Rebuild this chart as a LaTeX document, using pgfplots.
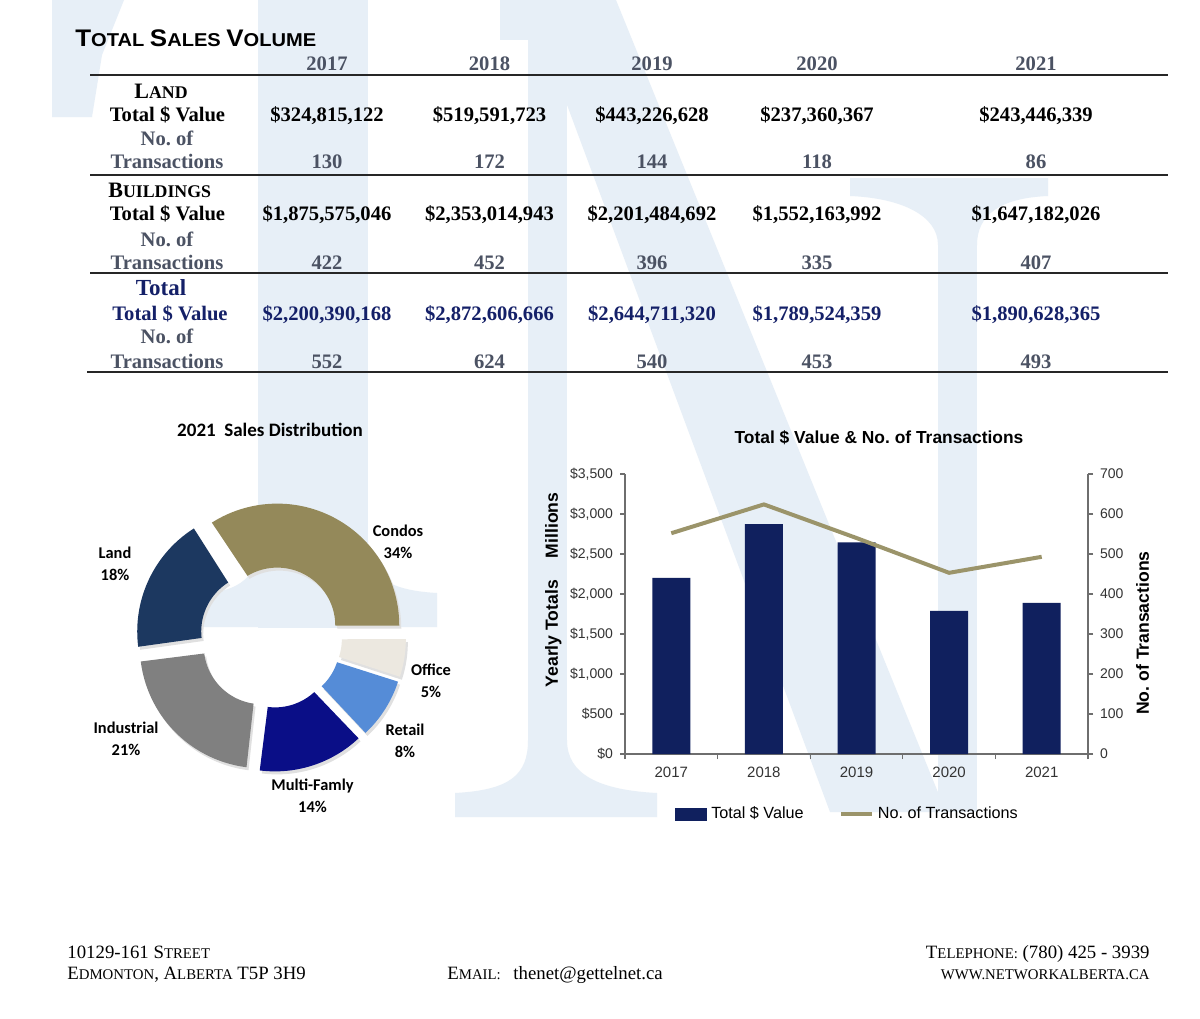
\documentclass[border=0pt]{standalone}
\usepackage{fontspec}
\setmainfont{Liberation Serif}
\newfontfamily\arial{Liberation Sans}
\newfontfamily\calibri{Carlito}
\usepackage{graphicx}
\usepackage{pgfplots}
\pgfplotsset{compat=1.18}

\definecolor{wm}{RGB}{231,239,247}
\definecolor{tgray}{RGB}{75,82,99}
\definecolor{tnavy}{RGB}{20,32,104}
\definecolor{barnavy}{RGB}{16,32,94}
\definecolor{khaki}{RGB}{155,148,106}
\definecolor{condo}{RGB}{148,137,90}
\definecolor{landc}{RGB}{28,56,96}
\definecolor{indc}{RGB}{128,128,128}
\definecolor{multic}{RGB}{10,14,135}
\definecolor{retailc}{RGB}{85,140,215}
\definecolor{officec}{RGB}{236,232,224}
\definecolor{axgray}{RGB}{110,110,110}

\newcommand{\tf}{\fontsize{10.3pt}{12pt}\selectfont\bfseries}
\newcommand{\ftB}{\fontsize{9.4pt}{11pt}\selectfont}
\newcommand{\ftS}{\fontsize{7.4pt}{9pt}\selectfont}
\newcommand{\lbl}{\calibri\bfseries\fontsize{8.2pt}{11pt}\selectfont}

\def\Rout{122}
\def\Rin{58}
\def\Doff{13}
% donut segment: colour, start percentage, percentage
\newcommand{\donutseg}[3]{%
  \pgfmathsetmacro{\aS}{#2*3.6}%
  \pgfmathsetmacro{\aE}{(#2+#3)*3.6}%
  \pgfmathsetmacro{\aM}{(#2+#3/2)*3.6}%
  \pgfmathsetmacro{\oX}{\Doff*cos(\aM)}%
  \pgfmathsetmacro{\oY}{\Doff*sin(\aM)}%
  \pgfmathsetmacro{\sX}{\oX+2}%
  \pgfmathsetmacro{\sY}{\oY-3}%
  \edef\doseg{%
    \noexpand\addplot[fill=black!12, draw=none, domain=0:2, samples=161, variable=\noexpand\t, forget plot]
    ({\sX + ((\noexpand\t<=1) ? \Rout : \Rin)*cos((\noexpand\t<=1) ? (\aS+\noexpand\t*(\aE-\aS)) : (\aE-(\noexpand\t-1)*(\aE-\aS)))},
     {\sY + ((\noexpand\t<=1) ? \Rout : \Rin)*sin((\noexpand\t<=1) ? (\aS+\noexpand\t*(\aE-\aS)) : (\aE-(\noexpand\t-1)*(\aE-\aS)))});
    \noexpand\addplot[fill=#1, draw=none, domain=0:2, samples=161, variable=\noexpand\t, forget plot]
    ({\oX + ((\noexpand\t<=1) ? \Rout : \Rin)*cos((\noexpand\t<=1) ? (\aS+\noexpand\t*(\aE-\aS)) : (\aE-(\noexpand\t-1)*(\aE-\aS)))},
     {\oY + ((\noexpand\t<=1) ? \Rout : \Rin)*sin((\noexpand\t<=1) ? (\aS+\noexpand\t*(\aE-\aS)) : (\aE-(\noexpand\t-1)*(\aE-\aS)))});
  }%
  \doseg}

\begin{document}
\begin{tikzpicture}
\fill[white] (0,0) rectangle (600pt,-509pt);
\path[use as bounding box] (0,0) rectangle (600pt,-509pt);

% ---------- watermark ----------
\begin{scope}
\clip (0,0) rectangle (600pt,-509pt);
\begin{scope}[x=0.5pt,y=-0.5pt]
% T
\fill[wm] (52,0) -- (124,0) -- (102,55) -- (92,117) -- (52,117) -- cycle;
\fill[wm] (258,0) rectangle (368,628);
\fill[wm] (192,595) .. controls (245,592) and (258,575) .. (258,540) -- (368,540)
  .. controls (368,575) and (385,590) .. (437,593) -- (437,627) -- (192,627) -- cycle;
% N
\fill[wm] (500,0) rectangle (616,40);
\fill[wm] (528,0) rectangle (567,815);
\fill[wm] (455,793) .. controls (510,790) and (528,775) .. (528,740) -- (567,740)
  .. controls (567,775) and (600,790) .. (657,793) -- (657,817) -- (455,817) -- cycle;
\fill[wm] (528,0) -- (616,0) -- (946,812) -- (830,812) -- cycle;
\fill[wm] (938,195) rectangle (977,812);
\fill[wm] (850,178) -- (1048,178) -- (1048,196) .. controls (1000,198) and (977,215) .. (977,245)
  -- (938,245) .. controls (938,215) and (900,198) .. (850,196) -- cycle;
\end{scope}
\end{scope}

\begin{scope}[x=0.5pt,y=-0.5pt]
% ---------- table title ----------
\node[anchor=base west, inner sep=0] at (75,46) {\scalebox{1.08}[1]{\arial\bfseries
  \fontsize{12}{12}\selectfont T\fontsize{9.3}{10}\selectfont OTAL
  \fontsize{12}{12}\selectfont S\fontsize{9.3}{10}\selectfont ALES
  \fontsize{12}{12}\selectfont V\fontsize{9.3}{10}\selectfont OLUME}};

% ---------- table rules ----------
\draw[line width=1pt, black!85] (90,74.5) -- (1168,74.5);
\draw[line width=1pt, black!85] (90,174.5) -- (1168,174.5);
\draw[line width=1pt, black!85] (90,272.7) -- (1168,272.7);
\draw[line width=1pt, black!85] (87,372) -- (1168,372);

% ---------- headers ----------
\foreach \x/\y in {327/2017,489.5/2018,652/2019,817/2020,1036/2021}
  \node[anchor=base, font=\tf, text=tgray, inner sep=0] at (\x,70) {\y};

% ---------- row labels ----------
\node[anchor=base, inner sep=0] at (161,98) {\bfseries\fontsize{11}{12}\selectfont L\fontsize{8.9}{10}\selectfont AND};
\node[anchor=base, font=\tf, inner sep=0] at (167.5,121.5) {Total \$ Value};
\node[anchor=base, font=\tf, text=tgray, inner sep=0] at (167,145) {No.\ of};
\node[anchor=base, font=\tf, text=tgray, inner sep=0] at (167,168) {Transactions};

\node[anchor=base west, inner sep=0] at (108,197) {\bfseries\fontsize{11}{12}\selectfont B\fontsize{8.9}{10}\selectfont UILDINGS};
\node[anchor=base, font=\tf, inner sep=0] at (167.5,220.5) {Total \$ Value};
\node[anchor=base, font=\tf, text=tgray, inner sep=0] at (167,246.5) {No.\ of};
\node[anchor=base, font=\tf, text=tgray, inner sep=0] at (167,269) {Transactions};

\node[anchor=base, inner sep=0, text=tnavy] at (161,295) {\bfseries\fontsize{11.5}{12}\selectfont Total};
\node[anchor=base, font=\tf, text=tnavy, inner sep=0] at (170,320) {Total \$ Value};
\node[anchor=base, font=\tf, text=tgray, inner sep=0] at (167,343.3) {No.\ of};
\node[anchor=base, font=\tf, text=tgray, inner sep=0] at (167,368) {Transactions};

% ---------- table values ----------
\foreach \x/\v in {327/{\$324,815,122},489.5/{\$519,591,723},652/{\$443,226,628},817/{\$237,360,367},1036/{\$243,446,339}}
  \node[anchor=base, font=\tf, inner sep=0] at (\x,121.5) {\v};
\foreach \x/\v in {327/130,489.5/172,652/144,817/118,1036/86}
  \node[anchor=base, font=\tf, text=tgray, inner sep=0] at (\x,168) {\v};
\foreach \x/\v in {327/{\$1,875,575,046},489.5/{\$2,353,014,943},652/{\$2,201,484,692},817/{\$1,552,163,992},1036/{\$1,647,182,026}}
  \node[anchor=base, font=\tf, inner sep=0] at (\x,220.5) {\v};
\foreach \x/\v in {327/422,489.5/452,652/396,817/335,1036/407}
  \node[anchor=base, font=\tf, text=tgray, inner sep=0] at (\x,269) {\v};
\foreach \x/\v in {327/{\$2,200,390,168},489.5/{\$2,872,606,666},652/{\$2,644,711,320},817/{\$1,789,524,359},1036/{\$1,890,628,365}}
  \node[anchor=base, font=\tf, text=tnavy, inner sep=0] at (\x,320) {\v};
\foreach \x/\v in {327/552,489.5/624,652/540,817/453,1036/493}
  \node[anchor=base, font=\tf, text=tgray, inner sep=0] at (\x,368) {\v};

% ---------- donut titles and labels ----------
\node[font=\calibri\bfseries\fontsize{9.5}{11}\selectfont] at (270,430) {2021\ \ Sales Distribution};
\node[align=center, font=\lbl, inner sep=0] at (398,542) {Condos\\34\%};
\node[align=center, font=\lbl, inner sep=0] at (115,564) {Land\\18\%};
\node[align=center, font=\lbl, inner sep=0] at (431,680.5) {Office\\5\%};
\node[align=center, font=\lbl, inner sep=0] at (126,739) {Industrial\\21\%};
\node[align=center, font=\lbl, inner sep=0] at (405,740.5) {Retail\\8\%};
\node[align=center, font=\lbl, inner sep=0] at (312.5,796) {Multi-Famly\\14\%};

% ---------- chart title ----------
\node[anchor=base, inner sep=0, font=\arial\bfseries\fontsize{8.7}{10}\selectfont] at (879,443) {Total \$ Value \& No.\ of Transactions};

% ---------- footer ----------
\node[anchor=base west, inner sep=0, font=\ftB] at (67,958) {10129-161 S{\ftS TREET}};
\node[anchor=base west, inner sep=0, font=\ftB] at (67,979) {E{\ftS DMONTON}, A{\ftS LBERTA} T5P 3H9};
\node[anchor=base west, inner sep=0, font=\ftB] at (447,979) {E{\ftS MAIL:}};
\node[anchor=base west, inner sep=0, font=\ftB] at (513,979) {thenet@gettelnet.ca};
\node[anchor=base east, inner sep=0, font=\ftB] at (1150,958) {T{\ftS ELEPHONE:} (780) 425 - 3939};
\node[anchor=base east, inner sep=0, font=\ftS] at (1150,979) {WWW.NETWORKALBERTA.CA};
\end{scope}

% ---------- donut ----------
\begin{axis}[at={(135.5pt,-318.5pt)}, anchor=origin, x=0.5pt, y=0.5pt,
  hide axis, xmin=-150, xmax=150, ymin=-150, ymax=150, clip=false]
\donutseg{condo}{0}{34}
\donutseg{landc}{34}{18}
\donutseg{indc}{52}{21}
\donutseg{multic}{73}{14}
\donutseg{retailc}{87}{8}
\donutseg{officec}{95}{5}
\end{axis}

% ---------- bar chart (left axis) ----------
\begin{axis}[
  at={(312.5pt,-377pt)}, anchor=south west,
  scale only axis, width=231.5pt, height=140pt,
  xmin=-0.5, xmax=4.5, ymin=0, ymax=3500,
  axis x line*=bottom, axis y line*=left,
  axis line style={axgray, line width=0.6pt},
  tick style={axgray, line width=0.6pt},
  tick align=outside, major tick length=2.5pt,
  xtick={-0.5,0.5,1.5,2.5,3.5,4.5}, xticklabels={},
  extra x ticks={0,1,2,3,4},
  extra x tick labels={2017,2018,2019,2020,2021},
  extra x tick style={major tick length=0pt, xticklabel style={yshift=-3pt}},
  ytick={0,500,1000,1500,2000,2500,3000,3500},
  yticklabels={\$0,\$500,{\$1,000},{\$1,500},{\$2,000},{\$2,500},{\$3,000},{\$3,500}},
  /pgf/number format/assume math mode=true,
  ticklabel style={font=\arial\fontsize{7}{8}\selectfont, text=black!80},
  x tick label style={font=\arial\fontsize{7.5}{8}\selectfont},
  ylabel={Yearly Totals\hspace{11pt}Millions},
  ylabel style={at={(axis description cs:-0.155,0.586)}, anchor=center,
    font=\arial\bfseries\fontsize{8.8}{10}\selectfont},
  clip=false,
]
\addplot[ybar, bar width=19pt, fill=barnavy, draw=none]
  coordinates {(0,2200.39) (1,2872.61) (2,2644.71) (3,1789.52) (4,1890.63)};
\end{axis}

% ---------- line (right axis) ----------
\begin{axis}[
  at={(312.5pt,-377pt)}, anchor=south west,
  scale only axis, width=231.5pt, height=140pt,
  xmin=-0.5, xmax=4.5, ymin=0, ymax=700,
  axis x line=none, axis y line*=right,
  axis line style={axgray, line width=0.6pt},
  tick style={axgray, line width=0.6pt},
  tick align=outside, major tick length=2.5pt,
  ytick={0,100,200,300,400,500,600,700},
  /pgf/number format/assume math mode=true,
  ticklabel style={font=\arial\fontsize{7}{8}\selectfont, text=black!80},
  ylabel={No.\ of Transactions},
  ylabel style={at={(axis description cs:1.118,0.432)}, anchor=center,
    font=\arial\bfseries\fontsize{8.8}{10}\selectfont},
  legend style={at={(0.483,-0.214)}, anchor=center, draw=none, fill=none,
    font=\arial\fontsize{8.1}{9}\selectfont, legend columns=2,
    /tikz/every even column/.append style={column sep=16pt},
    inner sep=0pt},
  clip=false,
]
\addlegendimage{legend image code/.code={\fill[barnavy] (0pt,-3pt) rectangle (15.5pt,3pt);}}
\addlegendentry{Total \$ Value}
\addplot[khaki, line width=2pt,
  legend image code/.code={\draw[khaki, line width=1.6pt] (0pt,0pt) -- (15.5pt,0pt);}]
  coordinates {(0,552) (1,624) (2,540) (3,453) (4,493)};
\addlegendentry{No.\ of Transactions}
\end{axis}
\end{tikzpicture}
\end{document}
